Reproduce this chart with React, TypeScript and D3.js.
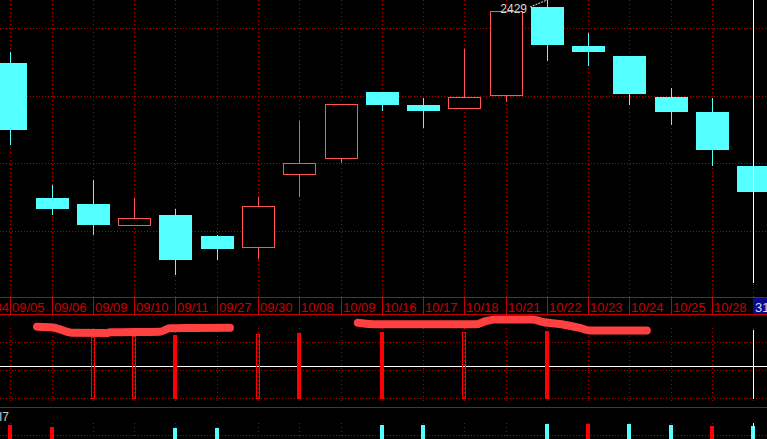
import React from "react";
import * as d3 from "d3";

const W = 767;
const H = 439;

// ---- data ----
const dates = ["09/05","09/06","09/09","09/10","09/11","09/27","09/30","10/08","10/09","10/16","10/17","10/18","10/21","10/22","10/23","10/24","10/25","10/28","10/31"];
const prevDate = "09/04";
const cursorLabel = "31";

const opens  = [2366, 2231, 2225, 2204.3, 2214, 2193, 2182.3, 2255.3, 2270.7, 2337, 2324, 2321.3, 2334.3, 2422, 2383, 2373, 2332, 2317, 2263];
const highs  = [2377, 2244, 2249, 2231, 2220, 2194, 2232, 2308, 2324.7, 2337, 2331, 2380, 2417.7, 2429, 2396, 2373, 2341, 2331, 2279];
const lows   = [2284, 2214, 2194, 2204.3, 2154, 2169, 2170, 2232.3, 2266.3, 2318, 2301, 2321.3, 2327.3, 2368, 2363.3, 2324.3, 2304.3, 2263.3, 2229];
const closes = [2299, 2220, 2204, 2210.7, 2169, 2180, 2222.7, 2265.7, 2324.7, 2324.3, 2318, 2332, 2417.7, 2384.3, 2377.3, 2335.3, 2317.3, 2279.3, 2237.3];
const priceGrid = [2401, 2333.5, 2266, 2198];

// middle indicator
const indValues = [0, 0, 90, 91.5, 92.6, 0, 94, 95.6, 0, 97, 0, 97, 0, 98.5, 0, 0, 0, 0, 0];
const indHollow = [false, false, true, true, false, false, true, false, false, false, false, true, false, false, false, false, false, false, false];
const indGrid = [82, 41, 0];
const indWhiteLevel = 47;
// hand-drawn highlight strokes (x in bar index, y in indicator units)
const markX1 = [0.647, 1.034, 1.495, 2.343, 2.415, 3.626, 3.869, 4.353, 5.322];
const markY1 = [104.9, 103.7, 96, 95.6, 96.6, 97.5, 102.5, 103, 103.4];
const markX2 = [8.42, 8.88, 11.28, 11.5, 11.74, 12.66, 12.9, 13.32, 13.8, 14.04, 15.42];
const markY2 = [110.8, 108.4, 108.4, 112.6, 115.6, 115.6, 111.9, 108.9, 103, 99.3, 99.3];

// bottom panel
const vols = [95, 93, 70, 72, 92, 92, 75, 78, 74, 95, 95, 76, 79, 96, 96, 96, 95, 94, 94];
const volRed = [true, true, false, true, false, false, true, true, true, false, false, true, true, false, true, false, false, true, false];
const bottomTitle = "I7";

const CYAN = "#54ffff";
const RED_C = "#ff5454";
const GRID = "#b40000";
const AXIS = "#c80000";

export default function App() {
  const n = dates.length;
  const xs = d3.scaleLinear().domain([0, n - 1]).range([10.3, 753.3]);
  const col = (i: number) => Math.round(xs(i));

  const mainTop = 0, mainBottom = 297;
  const axisBottom = 314;
  const indBottom = 407;

  const yP = d3.scaleLinear().domain([2132, 2429]).range([mainBottom, mainTop]);
  const yInd = d3.scaleLinear().domain([0, 100]).range([397.5, 330]);
  const yVol = d3.scaleLinear().domain([0, 100]).range([520, 420]);

  const idx = d3.range(n);
  const maxI = d3.maxIndex(highs);
  const maxH = highs[maxI];

  const line = d3.line<[number, number]>()
    .x(d => xs(d[0]))
    .y(d => yInd(d[1]))
    .curve(d3.curveMonotoneX);
  const mark1 = line(markX1.map((x, i) => [x, markY1[i]] as [number, number]))!;
  const mark2 = line(markX2.map((x, i) => [x, markY2[i]] as [number, number]))!;

  const font = "'Liberation Sans', Arial, sans-serif";
  const cursorCol = col(n - 1);

  return (
    <div style={{ position: "fixed", left: 0, top: 0, width: W, height: H, background: "#000" }}>
      <svg width={W} height={H} style={{ display: "block", background: "#000" }} fontFamily={font}>
        {/* main panel grid */}
        {idx.map(i => (
          <line key={"vg" + i} x1={col(i) + 0.5} x2={col(i) + 0.5} y1={mainTop} y2={mainBottom}
            stroke={GRID} strokeDasharray="1,3" />
        ))}
        {priceGrid.map((p, k) => (
          <line key={"hg" + k} x1={0} x2={W} y1={Math.round(yP(p)) + 0.5} y2={Math.round(yP(p)) + 0.5}
            stroke={GRID} strokeDasharray="1,2" />
        ))}

        {/* candles */}
        {idx.map(i => {
          const c = col(i);
          const o = opens[i], cl = closes[i];
          const up = cl >= o;
          const yTop = Math.round(yP(Math.max(o, cl)));
          const yBot = Math.round(yP(Math.min(o, cl)));
          const yH = Math.round(yP(highs[i]));
          const yL = Math.round(yP(lows[i]));
          if (up) {
            return (
              <g key={"c" + i}>
                {yH < yTop && <line x1={c + 0.5} x2={c + 0.5} y1={yH} y2={yTop} stroke={RED_C} />}
                {yL > yBot && <line x1={c + 0.5} x2={c + 0.5} y1={yBot} y2={yL} stroke={RED_C} />}
                <rect x={c - 16 + 0.5} y={yTop + 0.5} width={32} height={Math.max(1, yBot - yTop)}
                  fill="#000" stroke={RED_C} />
              </g>
            );
          }
          return (
            <g key={"c" + i}>
              <line x1={c + 0.5} x2={c + 0.5} y1={yH} y2={yL} stroke={CYAN} />
              <rect x={c - 16} y={yTop} width={33} height={Math.max(1, yBot - yTop)} fill={CYAN} />
            </g>
          );
        })}

        {/* max label */}
        <line x1={col(maxI) - 17} y1={yP(maxH) + 7} x2={col(maxI)} y2={yP(maxH)}
          stroke="#e0e0e0" strokeDasharray="2,1" />
        <text x={col(maxI) - 20} y={yP(maxH) + 13} textAnchor="end" fontSize={12} fill="#d8d8d8">
          {String(Math.round(maxH))}
        </text>

        {/* cursor line main */}
        <line x1={cursorCol + 0.5} x2={cursorCol + 0.5} y1={mainTop} y2={283} stroke="#ffffff" />

        {/* date axis */}
        <line x1={0} x2={W} y1={mainBottom + 0.5} y2={mainBottom + 0.5} stroke={AXIS} />
        <line x1={0} x2={W} y1={axisBottom + 0.5} y2={axisBottom + 0.5} stroke={AXIS} />
        {idx.map(i => (
          <line key={"sep" + i} x1={col(i) + 0.5} x2={col(i) + 0.5} y1={mainBottom} y2={axisBottom}
            stroke={AXIS} />
        ))}
        <text x={col(0) - 1} y={312} textAnchor="end" fontSize={13} fill={AXIS}>{prevDate}</text>
        {idx.slice(0, n - 1).map(i => (
          <text key={"dl" + i} x={col(i) + 2} y={312} fontSize={13} fill={AXIS}>{dates[i]}</text>
        ))}
        <rect x={cursorCol} y={mainBottom + 1} width={W - cursorCol} height={axisBottom - mainBottom - 1}
          fill="#0a0a8c" />
        <text x={cursorCol + 2} y={312} fontSize={13} fill="#d0d8ff">{cursorLabel}</text>

        {/* indicator panel */}
        {idx.map(i => (
          <line key={"ivg" + i} x1={col(i) + 0.5} x2={col(i) + 0.5} y1={328} y2={404}
            stroke={GRID} strokeDasharray="1,3" />
        ))}
        {indGrid.map((v, k) => (
          <line key={"ihg" + k} x1={0} x2={W} y1={Math.round(yInd(v)) + 0.5} y2={Math.round(yInd(v)) + 0.5}
            stroke={GRID} strokeDasharray="1,2" />
        ))}
        <line x1={0} x2={W} y1={Math.round(yInd(indWhiteLevel)) + 0.5} y2={Math.round(yInd(indWhiteLevel)) + 0.5}
          stroke="#ffffff" strokeWidth={1} />
        {idx.filter(i => indValues[i] > 0).map(i => {
          const c = col(i);
          const yt = Math.round(yInd(indValues[i]));
          const yb = Math.round(yInd(0));
          return indHollow[i] ? (
            <rect key={"ib" + i} x={c - 2 + 0.5} y={yt + 0.5} width={3} height={yb - yt}
              fill="none" stroke="#ff0000" />
          ) : (
            <rect key={"ib" + i} x={c - 2} y={yt} width={4} height={yb - yt + 1} fill="#ff0000" />
          );
        })}
        <line x1={cursorCol + 0.5} x2={cursorCol + 0.5} y1={330} y2={399} stroke="#ffffff" />
        <path d={mark1} fill="none" stroke="#ff4040" strokeWidth={8} strokeLinecap="round" strokeLinejoin="round" />
        <path d={mark2} fill="none" stroke="#ff4040" strokeWidth={8} strokeLinecap="round" strokeLinejoin="round" />

        {/* bottom panel */}
        <line x1={0} x2={W} y1={indBottom + 0.5} y2={indBottom + 0.5} stroke={AXIS} />
        <text x={-1} y={421} fontSize={12} fill="#c8c8c8">{bottomTitle}</text>
        <line x1={0} x2={W} y1={435.5} y2={435.5} stroke={GRID} strokeDasharray="1,2" />
        {idx.map(i => (
          <line key={"bvg" + i} x1={col(i) + 0.5} x2={col(i) + 0.5} y1={423} y2={H}
            stroke={GRID} strokeDasharray="1,3" />
        ))}
        {idx.map(i => {
          const c = col(i);
          const yt = Math.round(yVol(vols[i]));
          return (
            <rect key={"v" + i} x={c - 2} y={yt} width={4} height={Math.max(0, H - yt)}
              fill={volRed[i] ? "#ff0000" : CYAN} />
          );
        })}
        <line x1={cursorCol + 0.5} x2={cursorCol + 0.5} y1={423} y2={H} stroke="#ffffff" />
      </svg>
    </div>
  );
}
